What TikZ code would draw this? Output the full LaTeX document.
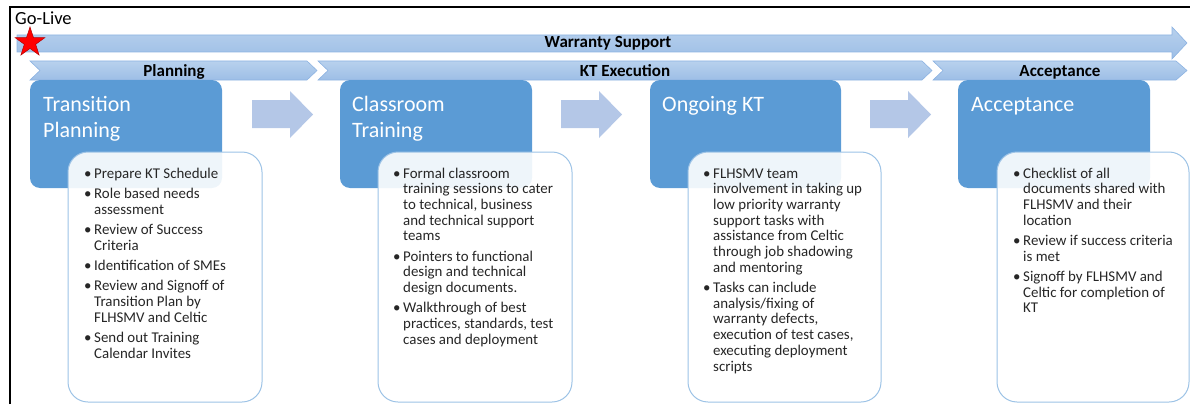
\documentclass[tikz,border=0pt]{standalone}
\usepackage{fontspec}
\setmainfont{Carlito}
\usetikzlibrary{shapes.geometric}
\definecolor{titleblue}{HTML}{5B9BD5}
\definecolor{gaparrow}{HTML}{B4C7E7}
\definecolor{bartop}{HTML}{B8D1ED}
\definecolor{barbot}{HTML}{9DBEE6}
\definecolor{barline}{HTML}{8DB3E2}
\definecolor{detailline}{HTML}{9DC3E6}
\newcommand\bitem[1]{\par\hangindent=10pt\hangafter=1\noindent\makebox[10pt][l]{\textbullet}#1\par}
\newcommand\nl{\newline}
\newcommand\detailtext[1]{\parbox[t]{200pt}{\raggedright\fontsize{14.9}{15.7}\selectfont\parskip=4.6pt #1}}
\tikzset{
  titlebox/.style={fill=titleblue, rounded corners=10pt, draw=none},
  detailbox/.style={fill=white, fill opacity=0.9, draw=detailline, line width=1pt, rounded corners=20pt},
  gaparrowstyle/.style={fill=gaparrow, draw=none},
  barstyle/.style={top color=bartop, bottom color=barbot, draw=barline, line width=0.6pt},
  titletext/.style={anchor=base west, inner sep=0pt, text=white},
  bartext/.style={anchor=base, inner sep=0pt, font=\fontsize{17}{20}\selectfont\bfseries},
  bodytext/.style={anchor=base west, inner sep=0pt, text=black!85}
}
\begin{document}
\begin{tikzpicture}[x=1pt,y=-1pt]
\useasboundingbox (0,0) rectangle (1190,404);
% frame
\draw[line width=2.5pt] (10,404) -- (10,7) -- (1190,7);
\node[anchor=base west, inner sep=0pt, font=\fontsize{18.5}{22}\selectfont] (golive) at (15,25) {Go-Live};
% warranty arrow
\path[barstyle] (17,35) -- (1172,35) -- (1172,27) -- (1187,43) -- (1172,59) -- (1172,52) -- (17,52) -- cycle;
\node[bartext] (warranty) at (608,48) {Warranty Support};
\node[star, star points=5, star point ratio=2.6, fill=red, draw=red!70!black, line width=0.5pt, minimum size=31pt, inner sep=0pt] (golivestar) at (30,42.5) {};
% chevrons
\path[barstyle] (30,61) -- (307,61) -- (317,70.5) -- (307,80) -- (30,80) -- (40,70.5) -- cycle;
\path[barstyle] (318,61) -- (922,61) -- (932,70.5) -- (922,80) -- (318,80) -- (328,70.5) -- cycle;
\path[barstyle] (933,61) -- (1176,61) -- (1187,70.5) -- (1176,80) -- (933,80) -- (943,70.5) -- cycle;
\node[bartext] (planlbl) at (174,76) {Planning};
\node[bartext] (ktlbl) at (625,76) {KT Execution};
\node[bartext] (acclbl) at (1060,76) {Acceptance};
% gap arrows
\foreach \x in {252,561,870}{
  \path[gaparrowstyle] (\x,100) -- (\x+38,100) -- (\x+38,91) -- (\x+61,114.5) -- (\x+38,138) -- (\x+38,128) -- (\x,128) -- cycle;
}
% title boxes
\path[titlebox] (30,80) rectangle (222,188);
\path[titlebox] (340,80) rectangle (532,188);
\path[titlebox] (650,80) rectangle (841,188);
\path[titlebox] (958,80) rectangle (1150,188);
\node[titletext] (t1) at (43,111) {\parbox[t]{180pt}{\fontsize{22}{26}\selectfont Transition\\Planning}};
\node[titletext] (t2) at (352,111) {\parbox[t]{180pt}{\fontsize{22}{26}\selectfont Classroom\\Training}};
\node[titletext] (t3) at (662,111) {\parbox[t]{180pt}{\fontsize{22}{26}\selectfont Ongoing KT}};
\node[titletext] (t4) at (971,111) {\parbox[t]{180pt}{\fontsize{22}{26}\selectfont Acceptance}};
% detail boxes
\path[detailbox] (68,152) rectangle (262,402);
\path[detailbox] (378,152) rectangle (572,402);
\path[detailbox] (688,152) rectangle (881,402);
\path[detailbox] (997,152) rectangle (1189,402);
\node[bodytext] (d1) at (84,178) {\detailtext{%
\bitem{Prepare KT Schedule}
\bitem{Role based needs\nl assessment}
\bitem{Review of Success\nl Criteria}
\bitem{Identification of SMEs}
\bitem{Review and Signoff of\nl Transition Plan by\nl FLHSMV and Celtic}
\bitem{Send out Training\nl Calendar Invites}}};
\node[bodytext] (d2) at (393,178) {\detailtext{%
\bitem{Formal classroom\nl training sessions to cater\nl to technical, business\nl and technical support\nl teams}
\bitem{Pointers to functional\nl design and technical\nl design documents.}
\bitem{Walkthrough of best\nl practices, standards, test\nl cases and deployment}}};
\node[bodytext] (d3) at (703,178) {\detailtext{%
\bitem{FLHSMV team\nl involvement in taking up\nl low priority warranty\nl support tasks with\nl assistance from Celtic\nl through job shadowing\nl and mentoring}
\bitem{Tasks can include\nl analysis/fixing of\nl warranty defects,\nl execution of test cases,\nl executing deployment\nl scripts}}};
\node[bodytext] (d4) at (1013,178) {\detailtext{%
\bitem{Checklist of all\nl documents shared with\nl FLHSMV and their\nl location}
\bitem{Review if success criteria\nl is met}
\bitem{Signoff by FLHSMV and\nl Celtic for completion of\nl KT}}};
\end{tikzpicture}
\end{document}
